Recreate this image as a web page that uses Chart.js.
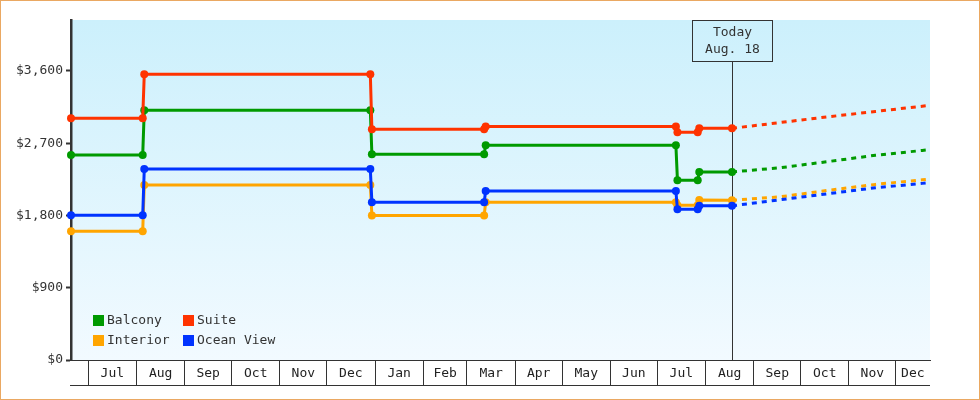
<!DOCTYPE html>
<html>
<head>
<meta charset="utf-8">
<title>Cabin price history</title>
<script src="https://cdn.jsdelivr.net/npm/chart.js@4.4.1/dist/chart.umd.min.js"></script>
<style>
  html, body { margin: 0; padding: 0; background: #fff; }
  #wrap { width: 980px; height: 400px; }
</style>
</head>
<body>
<div id="wrap"><canvas id="priceChart" width="980" height="400"></canvas></div>
<script>
// price history per cabin type, dates as yyyy-mm-dd
var historyDates = ['2018-06-20', '2018-08-05', '2018-08-06', '2018-12-29', '2018-12-30', '2019-03-12',
                    '2019-03-13', '2019-07-13', '2019-07-14', '2019-07-27', '2019-07-28', '2019-08-18'];
var balconyPrices  = [2555, 2555, 3110, 3110, 2562, 2562, 2675, 2675, 2240, 2240, 2342, 2342];
var suitePrices    = [3010, 3010, 3560, 3560, 2874, 2874, 2910, 2910, 2836, 2836, 2886, 2886];
var interiorPrices = [1603, 1603, 2180, 2180, 1800, 1800, 1964, 1964, 1927, 1927, 1992, 1990];
var oceanPrices    = [1802, 1802, 2378, 2378, 1964, 1964, 2105, 2105, 1877, 1877, 1920, 1920];

// forecast after today (dashed)
var forecastDates = ['2019-08-18', '2019-09-18', '2019-10-18', '2019-11-18', '2019-12-18', '2019-12-23'];
var balconyForecast  = [2342, 2395, 2470, 2550, 2610, 2620];
var suiteForecast    = [2886, 2958, 3028, 3096, 3161, 3172];
var interiorForecast = [1990, 2033, 2111, 2187, 2245, 2255];
var oceanForecast    = [1920, 1996, 2070, 2145, 2200, 2210];

var monthLabels = ['Jul', 'Aug', 'Sep', 'Oct', 'Nov', 'Dec', 'Jan', 'Feb', 'Mar',
                   'Apr', 'May', 'Jun', 'Jul', 'Aug', 'Sep', 'Oct', 'Nov', 'Dec'];
var priceTicks = [0, 900, 1800, 2700, 3600];
var priceMax = 4235;
var rangeStart = '2018-06-20';
var rangeEnd = '2019-12-23';
var todayDate = '2019-08-18';
var todayLabel = ['Today', 'Aug. 18'];

var colors = { balcony: '#009a00', suite: '#ff3300', interior: '#ffa500', ocean: '#0033ff' };
var FONT = '"DejaVu Sans Mono", "Liberation Mono", monospace';

function toDay(s)
{
    var p = s.split('-');
    return (Date.UTC(+p[0], +p[1] - 1, +p[2]) - Date.UTC(2018, 6, 1)) / 86400000;
}

var minDay = toDay(rangeStart);
var maxDay = toDay(rangeEnd);

// month boundaries get a separator, month middles get the label
var xTicks = [];
var boundaries = {};
for (var i = 0; i < monthLabels.length; i++)
{
    var s = (Date.UTC(2018, 6 + i, 1) - Date.UTC(2018, 6, 1)) / 86400000;
    var e = (Date.UTC(2018, 7 + i, 1) - Date.UTC(2018, 6, 1)) / 86400000;
    if (s > minDay && s < maxDay)
    {
        xTicks.push({ value: s, label: '' });
        boundaries[s] = true;
    }
    var mid = (Math.max(s, minDay) + Math.min(e, maxDay)) / 2;
    xTicks.push({ value: mid, label: monthLabels[i] });
}
xTicks.sort(function (a, b) { return a.value - b.value; });

function series(label, dates, prices, color, dashed)
{
    return {
        label: label,
        data: dates.map(function (d, i) { return { x: toDay(d), y: prices[i] }; }),
        borderColor: color,
        backgroundColor: color,
        borderWidth: 3,
        borderDash: dashed ? [5, 5] : [],
        pointRadius: dashed ? 0 : 4,
        pointHoverRadius: dashed ? 0 : 4,
        pointBorderWidth: 0,
        fill: false,
        tension: 0,
        clip: false
    };
}

var legendItems = [
    { label: 'Balcony', color: colors.balcony },
    { label: 'Suite', color: colors.suite },
    { label: 'Interior', color: colors.interior },
    { label: 'Ocean View', color: colors.ocean }
];

var backdrop = {
    id: 'backdrop',
    beforeDraw: function (chart)
    {
        var ctx = chart.ctx, a = chart.chartArea;
        ctx.save();
        ctx.fillStyle = '#fff';
        ctx.fillRect(0, 0, chart.width, chart.height);
        var g = ctx.createLinearGradient(0, a.top, 0, a.bottom);
        g.addColorStop(0, '#ccf0fc');
        g.addColorStop(1, '#f2faff');
        ctx.fillStyle = g;
        ctx.fillRect(a.left, a.top, a.right - a.left, a.bottom - a.top);
        ctx.strokeStyle = '#eaa862';
        ctx.lineWidth = 1;
        ctx.strokeRect(0.5, 0.5, chart.width - 1, chart.height - 1);
        ctx.restore();
    }
};

var todayMarker = {
    id: 'todayMarker',
    beforeDatasetsDraw: function (chart)
    {
        var ctx = chart.ctx, a = chart.chartArea;
        var x = Math.round(chart.scales.x.getPixelForValue(toDay(todayDate))) + 0.5;
        ctx.save();
        ctx.strokeStyle = '#333';
        ctx.lineWidth = 1;
        ctx.strokeRect(x - 40, a.top + 0.5, 80, 41);
        ctx.beginPath();
        ctx.moveTo(x, a.top + 41.5);
        ctx.lineTo(x, a.bottom);
        ctx.stroke();
        ctx.fillStyle = '#333';
        ctx.font = '13px ' + FONT;
        ctx.textAlign = 'center';
        ctx.textBaseline = 'middle';
        ctx.fillText(todayLabel[0], x, a.top + 13);
        ctx.fillText(todayLabel[1], x, a.top + 30);
        ctx.restore();
    }
};

var boxLegend = {
    id: 'boxLegend',
    afterDraw: function (chart)
    {
        var ctx = chart.ctx, a = chart.chartArea;
        ctx.save();
        // bottom line of the month band
        ctx.strokeStyle = '#333';
        ctx.lineWidth = 1;
        ctx.beginPath();
        ctx.moveTo(a.left - 1, a.bottom + 25.5);
        ctx.lineTo(a.right, a.bottom + 25.5);
        ctx.stroke();

        ctx.font = '13px ' + FONT;
        ctx.textBaseline = 'middle';
        ctx.textAlign = 'left';
        legendItems.forEach(function (item, i)
        {
            var bx = a.left + 22 + (i % 2) * 90;
            var by = a.bottom - 45 + Math.floor(i / 2) * 20;
            ctx.fillStyle = item.color;
            ctx.fillRect(bx, by, 11, 11);
            ctx.fillStyle = '#333';
            ctx.fillText(item.label, bx + 14, by + 6);
        });
        ctx.restore();
    }
};

new Chart(document.getElementById('priceChart'), {
    type: 'line',
    data: {
        datasets: [
            series('Suite', historyDates, suitePrices, colors.suite, false),
            series('Ocean View', historyDates, oceanPrices, colors.ocean, false),
            series('Balcony', historyDates, balconyPrices, colors.balcony, false),
            series('Interior', historyDates, interiorPrices, colors.interior, false),
            series('Suite forecast', forecastDates, suiteForecast, colors.suite, true),
            series('Ocean View forecast', forecastDates, oceanForecast, colors.ocean, true),
            series('Balcony forecast', forecastDates, balconyForecast, colors.balcony, true),
            series('Interior forecast', forecastDates, interiorForecast, colors.interior, true)
        ]
    },
    options: {
        responsive: false,
        animation: false,
        devicePixelRatio: 1,
        layout: { padding: { top: 20, right: 50, bottom: 15, left: 0 } },
        plugins: {
            legend: { display: false },
            tooltip: { enabled: false }
        },
        scales: {
            x: {
                type: 'linear',
                min: minDay,
                max: maxDay,
                afterBuildTicks: function (scale)
                {
                    scale.ticks = xTicks.map(function (t) { return { value: t.value }; });
                },
                afterFit: function (scale) { scale.height = 25; },
                ticks: {
                    autoSkip: false,
                    maxRotation: 0,
                    minRotation: 0,
                    padding: -19,
                    color: '#222',
                    font: { family: FONT, size: 13 },
                    callback: function (value, index) { return xTicks[index] ? xTicks[index].label : ''; }
                },
                grid: {
                    drawOnChartArea: false,
                    drawTicks: true,
                    tickLength: 25,
                    color: function (c) { return c.tick && boundaries[c.tick.value] ? '#333' : 'rgba(0,0,0,0)'; }
                },
                border: { display: true, color: '#333', width: 1 }
            },
            y: {
                min: 0,
                max: priceMax,
                afterBuildTicks: function (scale)
                {
                    scale.ticks = priceTicks.map(function (v) { return { value: v }; });
                },
                afterFit: function (scale) { scale.width = 71; },
                ticks: {
                    padding: 3,
                    color: '#333',
                    font: { family: FONT, size: 13 },
                    callback: function (value) { return '$' + value.toLocaleString('en-US'); }
                },
                grid: {
                    drawOnChartArea: false,
                    drawTicks: true,
                    tickLength: 5,
                    tickWidth: 2,
                    tickColor: '#333'
                },
                border: { display: true, color: '#333', width: 2.5 }
            }
        }
    },
    plugins: [backdrop, todayMarker, boxLegend]
});
</script>
</body>
</html>
